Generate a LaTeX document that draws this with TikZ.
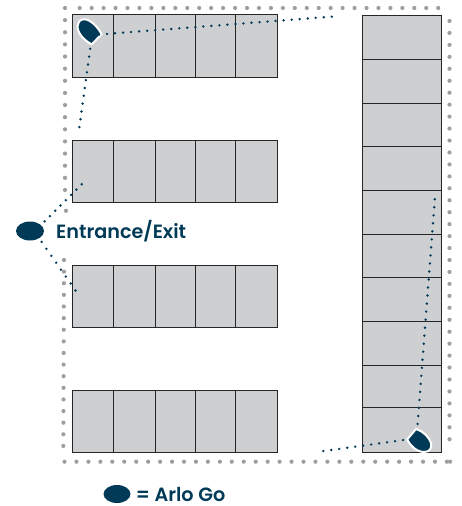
\documentclass[tikz,border=0pt]{standalone}
\usepackage{fontspec}
\setmainfont{Poppins}[BoldFont=Poppins SemiBold]
\usetikzlibrary{positioning,shapes.geometric}
\definecolor{arlo}{HTML}{003A56}
\definecolor{stallgray}{HTML}{CDCFD1}
\definecolor{dotgray}{HTML}{9E9EA2}

\begin{document}
\begin{tikzpicture}[x=1pt,y=-1pt]
    \tikzstyle{stall}=[rectangle, fill=stallgray, draw=black!85, line width=0.9pt, inner sep=0pt]
    \tikzstyle{fence}=[dotgray, line width=4.2pt, line cap=round, dash pattern=on 0pt off 11.95pt]
    \tikzstyle{trail}=[arlo, line width=2.7pt, line cap=round, dash pattern=on 0pt off 8.05pt]
    \tikzstyle{arlocam}=[ellipse, fill=arlo, inner sep=0pt]
    \tikzstyle{caption}=[text=arlo, font=\fontsize{19.2}{22}\selectfont\bfseries, inner sep=0pt]
    \useasboundingbox (0,0) rectangle (461,506);

      % left rows of stalls
      \foreach \row/\top/\bot in {a/14.5/77, b/140/202, c/265/327, d/390/452} {
        \foreach \col/\left/\right in {1/72/113, 2/113/155, 3/155/195, 4/195/235, 5/235/277} {
          \path[stall] (\left,\top) rectangle (\right,\bot);
        }
      }
      % right column of stalls
      \foreach \top/\bot in {15/59, 59/103, 103/146, 146/190, 190/234, 234/277, 277/321, 321/365, 365/407, 407/452} {
        \path[stall] (362.5,\top) rectangle (441.5,\bot);
      }

      % fence
      \coordinate (nw) at (65,8);
      \coordinate (nwnext) at (79.7,8);
      \coordinate (ne) at (450,8);
      \coordinate (enext) at (449.5,21);
      \coordinate (se) at (449.5,451);
      \coordinate (sw) at (64.5,461.7);
      \coordinate (swend) at (450,461.7);
      \coordinate (gapup) at (65,202);
      \coordinate (gaplast) at (66,210.8);
      \coordinate (gapdown) at (64,260);
      \coordinate (leftend) at (63.3,457.5);
      \draw[fence] (nwnext) -- (ne);
      \draw[fence] (enext) -- (se);
      \draw[fence] (sw) -- (swend);
      \draw[fence, dash pattern=on 0pt off 11.62pt] (gapdown) -- (leftend);
      \draw[fence, dash pattern=on 0pt off 12.13pt] (nw) -- (gapup);
      \draw[fence] (gaplast) -- ++(0,0.1);
      \draw[fence] (swend) -- ++(0,0.1);

      % arlo units
      \path[fill=arlo, draw=white, line width=2pt] (101.5,34.3) -- (91.7,44.3)
        .. controls (85,41) and (78,34) .. (77.5,27)
        .. controls (78,21) and (81,19) .. (85,19.3)
        .. controls (91,20) and (98,27) .. (101.5,34.3) -- cycle;
      \path[fill=arlo, draw=white, line width=2pt] (416,429) -- (407.3,439.3)
        .. controls (409,444) and (416,452) .. (424,452)
        .. controls (430,452) and (432,448) .. (431,443)
        .. controls (429,437) and (423,431) .. (416,429) -- cycle;
      \node[arlocam, minimum width=28pt, minimum height=19pt] (entrancecam) at (30,231) {};
      \node[arlocam, minimum width=27pt, minimum height=18pt] (legendcam) at (117,494) {};

      % labels
      \node[caption, anchor=west] (entrance) at (56,231) {Entrance/Exit};
      \node[caption, right=5pt of legendcam] (legend) {= Arlo Go};

      % views
      \coordinate (topcamr) at (99,34.5);
      \coordinate (topcamb) at (91.3,41);
      \coordinate (topfar) at (333.5,16.5);
      \coordinate (topdown) at (79.2,128);
      \coordinate (botcamt) at (417,432);
      \coordinate (botcaml) at (411,439);
      \coordinate (botfar) at (435,197);
      \coordinate (botleft) at (323.2,451.1);
      \coordinate (entup) at (39.3,226.7);
      \coordinate (entdown) at (36.8,235);
      \coordinate (entupend) at (82,184);
      \coordinate (entdownend) at (75.9,291);
      \draw[trail] (topcamr) -- (topfar);
      \draw[trail, dash pattern=on 0pt off 7.9pt] (topcamb) -- (topdown);
      \draw[trail] (botcamt) -- (botfar);
      \draw[trail] (botcaml) -- (botleft);
      \draw[trail, dash pattern=on 0pt off 7.5pt] (entup) -- (entupend);
      \draw[trail, dash pattern=on 0pt off 8.45pt] (entdown) -- (entdownend);
    \end{tikzpicture}
\end{document}
